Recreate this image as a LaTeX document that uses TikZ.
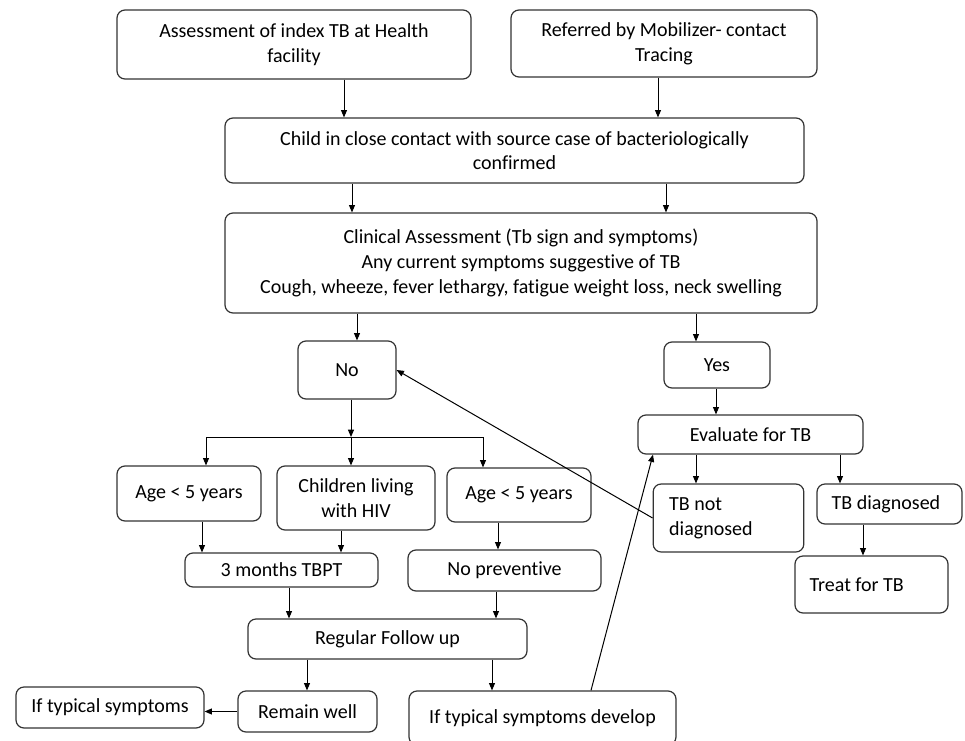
\documentclass[tikz,border=0pt]{standalone}
\usepackage{fontspec}
\setmainfont{Carlito}[Ligatures=NoCommon]
\usetikzlibrary{arrows.meta}

\tikzset{
  box/.style={draw=black!80, line width=0.9pt, rounded corners=6pt, align=center,
    inner sep=2pt, font=\fontsize{15}{18.5}\selectfont},
  lbox/.style={box, align=flush left, inner xsep=11pt},
}

\begin{document}
\begin{tikzpicture}[x=0.75pt, y=-0.75pt, >={Triangle[length=5.5pt,width=4.5pt]}, line width=0.75pt]
	\useasboundingbox (0,0) rectangle (965,740);

	\node[box, minimum width=265.5pt, minimum height=51.75pt] (asmt) at (294,44.5) {Assessment of index TB at Health\\facility};
	\node[box, minimum width=229.5pt, minimum height=50.25pt] (refer) at (664,43.5) {Referred by Mobilizer- contact\\Tracing};
	\node[box, minimum width=434.25pt, minimum height=48.75pt] (contact) at (514.5,150.5) {Child in close contact with source case of bacteriologically\\confirmed};
	\node[box, minimum width=444pt, minimum height=75pt] (clin) at (521,263) {Clinical Assessment (Tb sign and symptoms)\\Any current symptoms suggestive of TB\\Cough, wheeze, fever lethargy, fatigue weight loss, neck swelling};

	\node[box, minimum width=73.5pt, minimum height=43.5pt] (no) at (347,370) {No};
	\node[box, minimum width=79.5pt, minimum height=34.5pt] (yes) at (717,365) {Yes};
	\node[box, minimum width=168.75pt, minimum height=29.25pt] (eval) at (750.5,434.5) {Evaluate for TB};
	\node[lbox, inner xsep=12pt, text width=89pt, minimum height=51pt] (notdx) at (728.5,518) {TB not\\diagnosed};
	\node[lbox, text width=86.75pt, minimum height=30pt] (dx) at (889.5,504) {TB diagnosed};
	\node[lbox, text width=92.75pt, minimum height=42.75pt] (treat) at (871.5,584.5) {Treat for TB};

	\node[box, minimum width=108pt, minimum height=41.25pt] (ageA) at (189,493.5) {Age < 5 years};
	\node[box, minimum width=118.5pt, minimum height=48pt] (hiv) at (356,498) {Children living\\with HIV};
	\node[box, minimum width=108pt, minimum height=40.5pt] (ageB) at (519,495) {Age < 5 years};
	\node[box, minimum width=144.75pt, minimum height=25.5pt] (tbpt) at (281.5,570) {3 months TBPT};
	\node[box, minimum width=144.75pt, minimum height=30.75pt] (noprev) at (504.5,570.5) {No preventive};
	\node[box, minimum width=209.25pt, minimum height=30pt] (follow) at (387.5,639) {Regular Follow up};
	\node[box, minimum width=141pt, minimum height=30.75pt] (iftyp) at (110,707.5) {If typical symptoms};
	\node[box, minimum width=104.25pt, minimum height=30.75pt] (well) at (307.5,711.5) {Remain well};
	\node[box, minimum width=200.25pt, minimum height=40.5pt] (ifdev) at (542.5,718) {If typical symptoms develop};

	\draw[->] (asmt.south -| 344,0) -- (contact.north -| 344,0);
	\draw[->] (refer.south -| 658,0) -- (contact.north -| 658,0);
	\draw[->] (contact.south -| 352,0) -- (clin.north -| 352,0);
	\draw[->] (contact.south -| 666,0) -- (clin.north -| 666,0);
	\draw[->] (clin.south -| 357,0) -- (no.north -| 357,0);
	\draw[->] (clin.south -| 696,0) -- (yes.north -| 696,0);

	\coordinate (split) at (351,437);
	\draw[->] (no.south -| split) -- (split);
	\draw[->] (split) -| (ageA.north -| 206,0);
	\draw[->] (split) -- (hiv.north -| split);
	\draw[->] (split) -| (ageB.north -| 483,0);

	\draw[->] (yes.south -| 716,0) -- (eval.north -| 716,0);
	\draw[->] (eval.south -| 696,0) -- (notdx.north -| 696,0);
	\draw[->] (eval.south -| 840,0) -- (dx.north -| 840,0);
	\draw[->] (dx.south -| 863,0) -- (treat.north -| 863,0);
	\draw[->] (notdx.west) -- (no.east);

	\draw[->] (ageA.south -| 202,0) -- (tbpt.north -| 202,0);
	\draw[->] (hiv.south -| 341,0) -- (tbpt.north -| 341,0);
	\draw[->] (ageB.south -| 498,0) -- (noprev.north -| 498,0);
	\draw[->] (tbpt.south -| 289,0) -- (follow.north -| 289,0);
	\draw[->] (noprev.south -| 496,0) -- (follow.north -| 496,0);
	\draw[->] (follow.south -| 307,0) -- (well.north -| 307,0);
	\draw[->] (follow.south -| 492,0) -- (ifdev.north -| 492,0);
	\draw[->] (well.west) -- (iftyp.east |- well.west);
	\draw[->] (ifdev.north -| 591,0) -- (eval.south -| 653,0);
\end{tikzpicture}
\end{document}
